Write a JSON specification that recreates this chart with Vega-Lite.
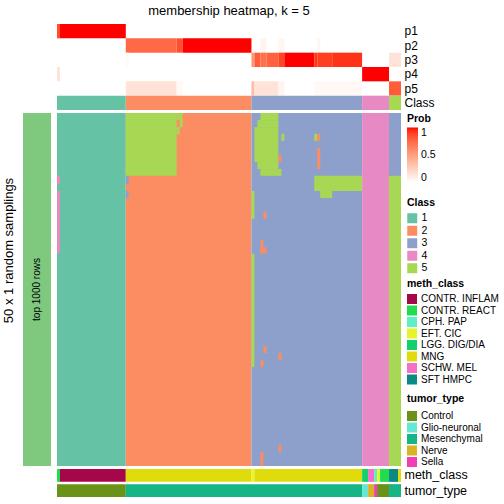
{
  "$schema": "https://vega.github.io/schema/vega-lite/v6.json",
  "autosize": "none",
  "padding": {"left": 23, "top": 24, "right": 481, "bottom": 480},
  "config": {
    "font": "Liberation Sans",
    "view": {"stroke": null},
    "legend": {
      "titleFontSize": 10.5, "titleFontWeight": "bold", "titleColor": "black",
      "labelFontSize": 10, "labelColor": "black", "symbolType": "square",
      "symbolSize": 100, "symbolStrokeWidth": 0, "rowPadding": 1.5,
      "titlePadding": 4.5, "padding": 0, "labelOffset": 4, "direction": "vertical"
    }
  },
  "datasets": {
    "probs": [
      {"c0":0,"c1":1,"row":"p1","prob":0.85},
      {"c0":1,"c1":23,"row":"p1","prob":1},
      {"c0":23,"c1":40,"row":"p2","prob":0.75},
      {"c0":40,"c1":42,"row":"p2","prob":0.85},
      {"c0":42,"c1":65,"row":"p2","prob":1},
      {"c0":68,"c1":70,"row":"p2","prob":0.06},
      {"c0":74,"c1":76,"row":"p2","prob":0.05},
      {"c0":87,"c1":88,"row":"p2","prob":0.05},
      {"c0":23,"c1":24,"row":"p3","prob":0.03},
      {"c0":65,"c1":66,"row":"p3","prob":0.55},
      {"c0":66,"c1":68,"row":"p3","prob":0.8},
      {"c0":68,"c1":70,"row":"p3","prob":0.72},
      {"c0":70,"c1":74,"row":"p3","prob":0.78},
      {"c0":74,"c1":76,"row":"p3","prob":0.88},
      {"c0":76,"c1":86,"row":"p3","prob":1},
      {"c0":86,"c1":87,"row":"p3","prob":0.92},
      {"c0":87,"c1":92,"row":"p3","prob":0.9},
      {"c0":92,"c1":102,"row":"p3","prob":0.93},
      {"c0":111,"c1":115,"row":"p3","prob":0.15},
      {"c0":0,"c1":1,"row":"p4","prob":0.15},
      {"c0":102,"c1":111,"row":"p4","prob":1},
      {"c0":23,"c1":40,"row":"p5","prob":0.15},
      {"c0":40,"c1":42,"row":"p5","prob":0.04},
      {"c0":65,"c1":66,"row":"p5","prob":0.35},
      {"c0":66,"c1":74,"row":"p5","prob":0.15},
      {"c0":74,"c1":76,"row":"p5","prob":0.06},
      {"c0":86,"c1":102,"row":"p5","prob":0.04},
      {"c0":111,"c1":115,"row":"p5","prob":0.8}
    ],
    "classes": [
      {"c0":0,"c1":23,"cls":1},
      {"c0":23,"c1":65,"cls":2},
      {"c0":65,"c1":102,"cls":3},
      {"c0":102,"c1":111,"cls":4},
      {"c0":111,"c1":115,"cls":5}
    ],
    "meth": [
      {"c0":0,"c1":1,"meth":"CONTR. REACT"},
      {"c0":1,"c1":23,"meth":"CONTR. INFLAM"},
      {"c0":23,"c1":65,"meth":"MNG"},
      {"c0":65,"c1":66,"meth":"EFT. CIC"},
      {"c0":66,"c1":102,"meth":"MNG"},
      {"c0":102,"c1":104,"meth":"LGG. DIG/DIA"},
      {"c0":104,"c1":106,"meth":"SCHW. MEL"},
      {"c0":106,"c1":107,"meth":"CPH. PAP"},
      {"c0":107,"c1":108,"meth":"EFT. CIC"},
      {"c0":108,"c1":111,"meth":"CONTR. REACT"},
      {"c0":111,"c1":114,"meth":"SFT HMPC"},
      {"c0":114,"c1":115,"meth":"MNG"}
    ],
    "tumor": [
      {"c0":0,"c1":23,"tumor":"Control"},
      {"c0":23,"c1":102,"tumor":"Mesenchymal"},
      {"c0":102,"c1":104,"tumor":"Glio-neuronal"},
      {"c0":104,"c1":106,"tumor":"Nerve"},
      {"c0":106,"c1":107,"tumor":"Sella"},
      {"c0":107,"c1":111,"tumor":"Control"},
      {"c0":111,"c1":115,"tumor":"Mesenchymal"}
    ],
    "main": [
      {"c0":0,"c1":23,"r0":0,"r1":1000,"cls":1},
      {"c0":23,"c1":65,"r0":0,"r1":1000,"cls":2},
      {"c0":65,"c1":102,"r0":0,"r1":1000,"cls":3},
      {"c0":102,"c1":111,"r0":0,"r1":1000,"cls":4},
      {"c0":111,"c1":115,"r0":0,"r1":1000,"cls":5},
      {"c0":0,"c1":1,"r0":178,"r1":201,"cls":4},
      {"c0":0,"c1":1,"r0":221,"r1":397,"cls":4},
      {"c0":23,"c1":40,"r0":0,"r1":178,"cls":5},
      {"c0":40,"c1":41,"r0":0,"r1":20,"cls":5},
      {"c0":40,"c1":41,"r0":40,"r1":60,"cls":5},
      {"c0":41,"c1":42,"r0":0,"r1":40,"cls":5},
      {"c0":23,"c1":24,"r0":178,"r1":201,"cls":3},
      {"c0":23,"c1":24,"r0":221,"r1":241,"cls":3},
      {"c0":68,"c1":74,"r0":0,"r1":20,"cls":5},
      {"c0":67,"c1":74,"r0":20,"r1":40,"cls":5},
      {"c0":66,"c1":74,"r0":40,"r1":119,"cls":5},
      {"c0":66,"c1":74,"r0":119,"r1":139,"cls":5},
      {"c0":74,"c1":75,"r0":119,"r1":139,"cls":2},
      {"c0":67,"c1":74,"r0":139,"r1":159,"cls":5},
      {"c0":68,"c1":75,"r0":159,"r1":178,"cls":5},
      {"c0":75,"c1":76,"r0":59,"r1":79,"cls":5},
      {"c0":86,"c1":87,"r0":59,"r1":79,"cls":5},
      {"c0":87,"c1":88,"r0":59,"r1":79,"cls":2},
      {"c0":87,"c1":88,"r0":99,"r1":159,"cls":2},
      {"c0":86,"c1":102,"r0":178,"r1":221,"cls":5},
      {"c0":88,"c1":92,"r0":221,"r1":241,"cls":5},
      {"c0":65,"c1":66,"r0":221,"r1":300,"cls":5},
      {"c0":65,"c1":66,"r0":399,"r1":720,"cls":5},
      {"c0":69,"c1":70,"r0":280,"r1":300,"cls":2},
      {"c0":68,"c1":69,"r0":360,"r1":399,"cls":2},
      {"c0":69,"c1":70,"r0":380,"r1":399,"cls":2},
      {"c0":69,"c1":70,"r0":660,"r1":680,"cls":2},
      {"c0":74,"c1":75,"r0":680,"r1":700,"cls":2},
      {"c0":68,"c1":69,"r0":700,"r1":720,"cls":2},
      {"c0":74,"c1":75,"r0":940,"r1":960,"cls":2},
      {"c0":68,"c1":69,"r0":960,"r1":1000,"cls":2},
      {"c0":111,"c1":115,"r0":0,"r1":178,"cls":3}
    ],
    "left": [{"label": "top 1000 rows"}]
  },
  "columns": 2,
  "spacing": {"row": 3, "column": 6},
  "bounds": "flush",
  "align": "each",
  "resolve": {"scale": {"color": "independent", "fill": "independent"}},
  "concat": [
    {"width": 28, "height": 86, "data": {"values": []}, "mark": "rect", "encoding": {}},
    {
      "width": 344, "height": 86,
      "title": {"text": "membership heatmap, k = 5", "fontSize": 13, "fontWeight": "normal", "anchor": "middle", "offset": 6, "color": "black"},
      "encoding": {
        "x": {"field": "c0", "type": "quantitative", "scale": {"domain": [0, 115], "nice": false, "zero": false}, "axis": null},
        "x2": {"field": "c1"}
      },
      "layer": [
        {
          "data": {"name": "probs"},
          "mark": {"type": "rect", "strokeWidth": 0},
          "encoding": {
            "y": {"field": "row", "type": "nominal", "scale": {"domain": ["p1","p2","p3","p4","p5","Class"], "paddingInner": 0, "paddingOuter": 0},
                  "axis": {"orient": "right", "title": null, "ticks": false, "domain": false, "labelFontSize": 12, "labelPadding": 3, "labelColor": "black"}},
            "fill": {"field": "prob", "type": "quantitative", "scale": {"domain": [0, 1], "range": ["#ffffff", "#ff0000"], "interpolate": "lab"},
                     "legend": {"title": "Prob", "orient": "none", "legendX": 350, "legendY": 90, "values": [0, 0.5, 1], "format": "~g", "gradientLength": 55, "gradientThickness": 11, "labelOffset": 3, "labelFontSize": 10.5, "titlePadding": 3}}
          }
        },
        {
          "data": {"name": "classes"},
          "mark": {"type": "rect", "strokeWidth": 0},
          "encoding": {
            "y": {"datum": "Class", "type": "nominal",
                  "axis": {"orient": "right", "title": null, "ticks": false, "domain": false, "labelFontSize": 12, "labelPadding": 3, "labelColor": "black"}},
            "color": {"field": "cls", "type": "nominal", "scale": {"domain": [1,2,3,4,5], "range": ["#66c2a5","#fc8d62","#8da0cb","#e78ac3","#a6d854"]},
                      "legend": {"title": "Class", "orient": "none", "legendX": 350, "legendY": 174, "labelFontSize": 10.5}}
          }
        }
      ]
    },
    {
      "width": 28, "height": 353,
      "data": {"name": "left"},
      "encoding": {
        "y": {"field": "label", "type": "nominal", "scale": {"paddingInner": 0, "paddingOuter": 0},
              "axis": {"title": "50 x 1 random samplings", "labels": false, "ticks": false, "domain": false, "titleFontSize": 13, "titleFontWeight": "normal", "titlePadding": 8, "titleColor": "black", "titleY": 137, "titleAlign": "center"}}
      },
      "layer": [
        {"mark": {"type": "rect", "color": "#7fc97f", "strokeWidth": 0}},
        {"mark": {"type": "text", "angle": 270, "fontSize": 10, "color": "black"}, "encoding": {"text": {"field": "label"}}}
      ]
    },
    {
      "width": 344, "height": 353,
      "data": {"name": "main"},
      "mark": {"type": "rect", "strokeWidth": 0},
      "encoding": {
        "x": {"field": "c0", "type": "quantitative", "scale": {"domain": [0, 115], "nice": false, "zero": false}, "axis": null},
        "x2": {"field": "c1"},
        "y": {"field": "r0", "type": "quantitative", "scale": {"domain": [0, 1000], "nice": false, "zero": false, "reverse": true}, "axis": null},
        "y2": {"field": "r1"},
        "color": {"field": "cls", "type": "nominal", "scale": {"domain": [1,2,3,4,5], "range": ["#66c2a5","#fc8d62","#8da0cb","#e78ac3","#a6d854"]}, "legend": null}
      }
    },
    {"width": 28, "height": 28, "data": {"values": []}, "mark": "rect", "encoding": {}},
    {
      "width": 344, "height": 28,
      "encoding": {
        "x": {"field": "c0", "type": "quantitative", "scale": {"domain": [0, 115], "nice": false, "zero": false}, "axis": null},
        "x2": {"field": "c1"}
      },
      "layer": [
        {
          "data": {"name": "meth"},
          "mark": {"type": "rect", "strokeWidth": 0},
          "encoding": {
            "y": {"datum": "meth_class", "type": "nominal", "scale": {"domain": ["meth_class", "tumor_type"], "paddingInner": 0.15, "paddingOuter": 0},
                  "axis": {"orient": "right", "title": null, "ticks": false, "domain": false, "labelFontSize": 12.5, "labelPadding": 3, "labelColor": "black"}},
            "color": {"field": "meth", "type": "nominal",
                      "scale": {"domain": ["CONTR. INFLAM","CONTR. REACT","CPH. PAP","EFT. CIC","LGG. DIG/DIA","MNG","SCHW. MEL","SFT HMPC"],
                                "range": ["#a6064a","#22dc50","#5ef0c4","#e5f527","#12d16c","#e0dc0b","#f56fc8","#0b8a84"]},
                      "legend": {"title": "meth_class", "orient": "none", "legendX": 350, "legendY": -190}}
          }
        },
        {
          "data": {"name": "tumor"},
          "mark": {"type": "rect", "strokeWidth": 0},
          "encoding": {
            "y": {"datum": "tumor_type", "type": "nominal",
                  "axis": {"orient": "right", "title": null, "ticks": false, "domain": false, "labelFontSize": 12.5, "labelPadding": 3, "labelColor": "black"}},
            "fill": {"field": "tumor", "type": "nominal",
                     "scale": {"domain": ["Control","Glio-neuronal","Mesenchymal","Nerve","Sella"],
                               "range": ["#6a9218","#66e6d4","#15b585","#d8b322","#f23eb5"]},
                     "legend": {"title": "tumor_type", "orient": "none", "legendX": 350, "legendY": -75, "titlePadding": 6.5}}
          }
        }
      ]
    }
  ]
}
